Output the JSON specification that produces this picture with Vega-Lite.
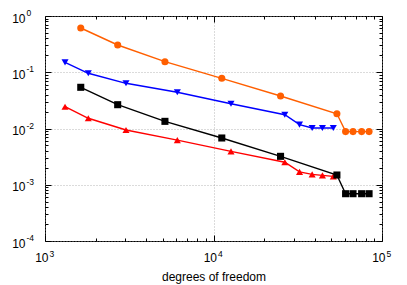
{
  "$schema": "https://vega.github.io/schema/vega-lite/v6.json",
  "width": 337,
  "height": 225,
  "autosize": {"type": "none"},
  "padding": {"left": 45, "top": 16, "right": 25, "bottom": 44},
  "config": {
    "view": {"stroke": "black", "strokeWidth": 1},
    "axis": {"labelFont": "Liberation Sans", "titleFont": "Liberation Sans", "labelColor": "black", "titleColor": "black", "tickColor": "black", "tickWidth": 1, "domain": false, "labelFlush": false, "labelOverlap": false, "titleFontWeight": "normal"}
  },
  "data": {"values": [
    {"s": "o", "x": 1630, "y": 0.612}, {"s": "o", "x": 2700, "y": 0.305}, {"s": "o", "x": 5150, "y": 0.154}, {"s": "o", "x": 11200, "y": 0.078}, {"s": "o", "x": 25000, "y": 0.0378}, {"s": "o", "x": 54000, "y": 0.0183}, {"s": "o", "x": 60800, "y": 0.0088}, {"s": "o", "x": 67300, "y": 0.0088}, {"s": "o", "x": 75700, "y": 0.0088}, {"s": "o", "x": 83800, "y": 0.0088},
    {"s": "b", "x": 1315, "y": 0.150}, {"s": "b", "x": 1807, "y": 0.0958}, {"s": "b", "x": 3025, "y": 0.0636}, {"s": "b", "x": 6100, "y": 0.044}, {"s": "b", "x": 12700, "y": 0.0276}, {"s": "b", "x": 26500, "y": 0.0176}, {"s": "b", "x": 32400, "y": 0.0117}, {"s": "b", "x": 38500, "y": 0.0102}, {"s": "b", "x": 44300, "y": 0.0102}, {"s": "b", "x": 51400, "y": 0.0102},
    {"s": "k", "x": 1630, "y": 0.054}, {"s": "k", "x": 2700, "y": 0.0265}, {"s": "k", "x": 5150, "y": 0.0134}, {"s": "k", "x": 11200, "y": 0.00678}, {"s": "k", "x": 25000, "y": 0.0032}, {"s": "k", "x": 54000, "y": 0.00149}, {"s": "k", "x": 60800, "y": 0.000693}, {"s": "k", "x": 67300, "y": 0.000693}, {"s": "k", "x": 75700, "y": 0.000693}, {"s": "k", "x": 83800, "y": 0.000693},
    {"s": "r", "x": 1315, "y": 0.0244}, {"s": "r", "x": 1807, "y": 0.0152}, {"s": "r", "x": 3025, "y": 0.0094}, {"s": "r", "x": 6100, "y": 0.0062}, {"s": "r", "x": 12700, "y": 0.00393}, {"s": "r", "x": 26500, "y": 0.00251}, {"s": "r", "x": 32400, "y": 0.00169}, {"s": "r", "x": 38500, "y": 0.00153}, {"s": "r", "x": 44300, "y": 0.00147}, {"s": "r", "x": 51400, "y": 0.00141}
  ]},
  "resolve": {"axis": {"x": "independent", "y": "independent"}},
  "layer": [
    {
      "transform": [{"filter": "datum.s === 'r'"}],
      "mark": {"type": "line", "color": "#ff0000", "strokeWidth": 1.4, "point": {"shape": "triangle-up", "filled": true, "size": 50, "color": "#ff0000", "opacity": 1}},
      "encoding": {
        "x": {"field": "x", "type": "quantitative", "scale": {"type": "log", "domain": [1000, 100000], "nice": false},
          "axis": {"orient": "bottom", "title": "degrees of freedom", "titleFontSize": 12, "titlePadding": 4.5,
            "values": [1000, 2000, 3000, 4000, 5000, 6000, 7000, 8000, 9000, 10000, 20000, 30000, 40000, 50000, 60000, 70000, 80000, 90000, 100000],
            "labelExpr": "abs(log(datum.value)/LN10 - round(log(datum.value)/LN10)) < 0.001 ? '10' : ''",
            "labelAlign": "right", "labelOffset": 3, "labelFontSize": 12, "labelPadding": 17.5, "labelBaseline": "top",
            "tickSize": {"condition": {"test": "abs(log(datum.value)/LN10 - round(log(datum.value)/LN10)) < 0.001", "value": -6}, "value": -3},
            "grid": true, "gridColor": "#999999", "gridDash": [1, 2], "gridWidth": 0.7,
            "gridOpacity": {"condition": {"test": "abs(log(datum.value)/LN10 - round(log(datum.value)/LN10)) < 0.001", "value": 1}, "value": 0}}},
        "y": {"field": "y", "type": "quantitative", "scale": {"type": "log", "domain": [0.0001, 1], "nice": false},
          "axis": {"orient": "left", "title": null,
            "values": [0.0001, 0.0002, 0.0003, 0.0004, 0.0005, 0.0006, 0.0007, 0.0008, 0.0009, 0.001, 0.002, 0.003, 0.004, 0.005, 0.006, 0.007, 0.008, 0.009, 0.01, 0.02, 0.03, 0.04, 0.05, 0.06, 0.07, 0.08, 0.09, 0.1, 0.2, 0.3, 0.4, 0.5, 0.6, 0.7, 0.8, 0.9, 1],
            "labelExpr": "abs(log(datum.value)/LN10 - round(log(datum.value)/LN10)) < 0.001 ? '10' : ''",
            "labelAlign": "right", "labelOffset": 2, "labelFontSize": 12, "labelPadding": 26, "labelBaseline": "middle",
            "tickSize": {"condition": {"test": "abs(log(datum.value)/LN10 - round(log(datum.value)/LN10)) < 0.001", "value": -6}, "value": -3},
            "grid": true, "gridColor": "#999999", "gridDash": [1, 2], "gridWidth": 0.7,
            "gridOpacity": {"condition": {"test": "abs(log(datum.value)/LN10 - round(log(datum.value)/LN10)) < 0.001", "value": 1}, "value": 0}}}
      }
    },
    {
      "transform": [{"filter": "datum.s === 'k'"}],
      "mark": {"type": "line", "color": "#000000", "strokeWidth": 1.4, "point": {"shape": "square", "filled": true, "size": 50, "color": "#000000", "opacity": 1}},
      "encoding": {
        "x": {"field": "x", "type": "quantitative",
          "axis": {"orient": "bottom", "title": null, "values": [1000, 10000, 100000], "ticks": false, "grid": false,
            "labelExpr": "'' + round(log(datum.value)/LN10)",
            "labelAlign": "left", "labelOffset": 4, "labelFontSize": 8.5, "labelPadding": 8, "labelBaseline": "top"}},
        "y": {"field": "y", "type": "quantitative",
          "axis": {"orient": "left", "title": null, "values": [0.0001, 0.001, 0.01, 0.1, 1], "ticks": false, "grid": false,
            "labelExpr": "'' + round(log(datum.value)/LN10)",
            "labelAlign": "left", "labelOffset": -3.5, "labelFontSize": 8.5, "labelPadding": 19, "labelBaseline": "middle"}}
      }
    },
    {
      "transform": [{"filter": "datum.s === 'b'"}],
      "mark": {"type": "line", "color": "#0000ff", "strokeWidth": 1.4, "point": {"shape": "triangle-down", "filled": true, "size": 50, "color": "#0000ff", "opacity": 1}},
      "encoding": {
        "x": {"field": "x", "type": "quantitative",
          "axis": {"orient": "top", "title": null, "labels": false, "grid": false,
            "values": [1000, 2000, 3000, 4000, 5000, 6000, 7000, 8000, 9000, 10000, 20000, 30000, 40000, 50000, 60000, 70000, 80000, 90000, 100000],
            "tickSize": {"condition": {"test": "abs(log(datum.value)/LN10 - round(log(datum.value)/LN10)) < 0.001", "value": -6}, "value": -3}}},
        "y": {"field": "y", "type": "quantitative",
          "axis": {"orient": "right", "title": null, "labels": false, "grid": false,
            "values": [0.0001, 0.0002, 0.0003, 0.0004, 0.0005, 0.0006, 0.0007, 0.0008, 0.0009, 0.001, 0.002, 0.003, 0.004, 0.005, 0.006, 0.007, 0.008, 0.009, 0.01, 0.02, 0.03, 0.04, 0.05, 0.06, 0.07, 0.08, 0.09, 0.1, 0.2, 0.3, 0.4, 0.5, 0.6, 0.7, 0.8, 0.9, 1],
            "tickSize": {"condition": {"test": "abs(log(datum.value)/LN10 - round(log(datum.value)/LN10)) < 0.001", "value": -6}, "value": -3}}}
      }
    },
    {
      "transform": [{"filter": "datum.s === 'o'"}],
      "mark": {"type": "line", "color": "#ff5f00", "strokeWidth": 1.4, "point": {"shape": "circle", "filled": true, "size": 50, "color": "#ff5f00", "opacity": 1}},
      "encoding": {
        "x": {"field": "x", "type": "quantitative", "axis": null},
        "y": {"field": "y", "type": "quantitative", "axis": null}
      }
    }
  ]
}
